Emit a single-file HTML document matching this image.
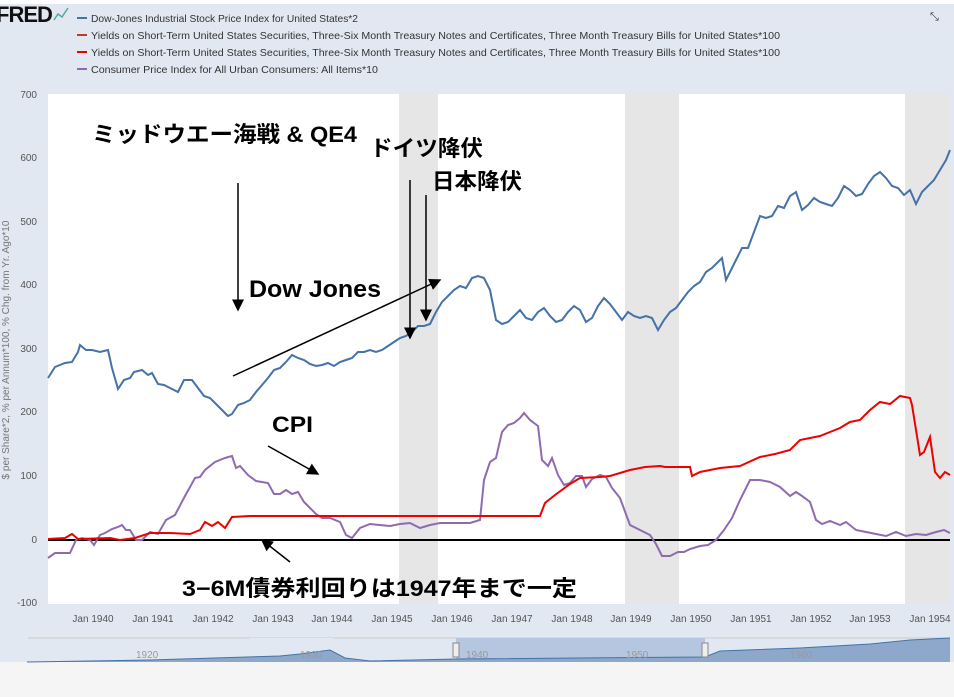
<!DOCTYPE html>
<html><head><meta charset="utf-8"><style>
body{margin:0;width:954px;height:692px;background:#f5f5f5;font-family:"Liberation Sans","Noto Sans CJK JP",sans-serif;overflow:hidden}
</style></head><body>
<svg width="954" height="692" xmlns="http://www.w3.org/2000/svg" font-family="Liberation Sans, Noto Sans CJK JP, sans-serif">
<rect x="0" y="0" width="954" height="662" fill="#e1e8f1"/>
<rect x="0" y="0" width="954" height="4" fill="#fff"/>
<text x="-4" y="22" font-size="22" font-weight="bold" fill="#111" letter-spacing="-1">FRED</text>
<polyline points="54,20 58,14 62,17 68,8" fill="none" stroke="#5a9" stroke-width="1.5"/>
<g font-size="10.5" fill="#333">
<line x1="77" y1="18" x2="87" y2="18" stroke="#4572a7" stroke-width="2"/><text x="91" y="22" textLength="267" lengthAdjust="spacingAndGlyphs">Dow-Jones Industrial Stock Price Index for United States*2</text>
<line x1="77" y1="35" x2="87" y2="35" stroke="#c0392b" stroke-width="2"/><text x="91" y="39" textLength="689" lengthAdjust="spacingAndGlyphs">Yields on Short-Term United States Securities, Three-Six Month Treasury Notes and Certificates, Three Month Treasury Bills for United States*100</text>
<line x1="77" y1="52" x2="87" y2="52" stroke="#e00" stroke-width="2"/><text x="91" y="56" textLength="689" lengthAdjust="spacingAndGlyphs">Yields on Short-Term United States Securities, Three-Six Month Treasury Notes and Certificates, Three Month Treasury Bills for United States*100</text>
<line x1="77" y1="69" x2="87" y2="69" stroke="#8e6bb0" stroke-width="2"/><text x="91" y="73" textLength="287" lengthAdjust="spacingAndGlyphs">Consumer Price Index for All Urban Consumers: All Items*10</text>
</g>
<text x="930" y="20" font-size="11" fill="#333">⤡</text>
<rect x="48" y="94" width="902" height="510" fill="#fff"/>
<rect x="399" y="94" width="39" height="510" fill="#e6e6e6"/>
<rect x="625" y="94" width="54" height="510" fill="#e6e6e6"/>
<rect x="905" y="94" width="45" height="510" fill="#e6e6e6"/>
<g font-size="10" fill="#555" text-anchor="end">
<text x="37" y="98">700</text><text x="37" y="161">600</text><text x="37" y="225">500</text><text x="37" y="288">400</text><text x="37" y="352">300</text><text x="37" y="415">200</text><text x="37" y="479">100</text><text x="37" y="543">0</text><text x="37" y="606">-100</text>
</g>
<text transform="translate(9,350) rotate(-90)" font-size="10" fill="#777" text-anchor="middle">$ per Share*2, % per Annum*100, % Chg. from Yr. Ago*10</text>
<g font-size="10" fill="#555" text-anchor="middle">
<text x="93" y="622">Jan 1940</text><text x="153" y="622">Jan 1941</text><text x="213" y="622">Jan 1942</text><text x="273" y="622">Jan 1943</text><text x="332" y="622">Jan 1944</text><text x="392" y="622">Jan 1945</text><text x="452" y="622">Jan 1946</text><text x="512" y="622">Jan 1947</text><text x="572" y="622">Jan 1948</text><text x="631" y="622">Jan 1949</text><text x="691" y="622">Jan 1950</text><text x="751" y="622">Jan 1951</text><text x="811" y="622">Jan 1952</text><text x="870" y="622">Jan 1953</text><text x="930" y="622">Jan 1954</text>
</g>
<line x1="48" y1="540" x2="950" y2="540" stroke="#000" stroke-width="2"/>
<polyline fill="none" stroke="#8e6bb0" stroke-width="2" points="48,558 55,553 70,553 76,540 82,538 90,540 94,545 100,535 105,533 112,529 118,527 122,525 126,530 130,530 136,540 142,540 150,532 158,534 166,520 175,515 185,496 195,478 200,477 205,470 215,462 225,458 232,456 236,468 240,466 248,475 256,481 268,483 274,494 280,494 286,490 292,494 298,492 304,502 310,508 316,514 322,518 330,518 340,522 346,535 352,538 360,528 370,524 390,526 400,524 410,523 420,528 430,525 440,523 470,523 480,520 484,480 490,462 496,458 502,432 508,425 514,423 520,418 524,413 530,420 538,426 542,460 548,466 552,458 558,475 564,485 570,483 576,476 582,476 586,487 592,479 600,475 606,477 612,488 620,498 630,525 640,530 650,535 656,544 662,556 670,556 678,552 684,552 690,549 700,546 708,545 716,540 724,530 732,518 740,500 750,480 760,480 770,482 780,487 790,496 796,492 802,496 810,502 816,520 822,524 830,521 840,525 846,522 856,530 866,532 876,534 886,536 896,532 906,536 916,534 926,535 936,532 944,530 950,533"/>
<polyline fill="none" stroke="#e00" stroke-width="2" points="48,539 65,538 72,534 78,539 110,538 120,540 135,538 150,533 170,533 190,534 200,530 205,522 212,526 218,522 225,528 232,517 250,516 300,516 540,516 545,503 555,495 570,484 580,478 600,477 610,476 630,470 645,467 660,466 665,467 690,467 692,476 700,472 710,470 720,468 740,466 760,457 775,454 790,450 800,440 820,436 830,432 840,428 850,422 860,420 870,410 880,402 890,404 900,396 910,398 912,405 920,455 924,452 930,437 935,472 940,478 945,472 950,475"/>
<polyline fill="none" stroke="#4572a7" stroke-width="2" points="48,378 55,367 65,363 72,362 78,352 80,345 86,350 92,350 100,352 108,350 112,368 118,389 124,380 130,378 134,372 142,370 148,375 152,373 158,384 164,385 170,388 178,392 184,380 192,380 198,388 204,396 210,398 216,404 222,410 228,416 232,414 238,405 244,403 250,400 256,392 262,385 268,378 274,370 280,368 286,362 292,355 298,358 304,360 310,364 316,366 322,365 328,363 334,366 340,362 346,360 352,358 358,352 364,352 370,350 376,352 382,350 388,346 394,342 400,338 406,336 412,332 418,326 424,326 430,324 436,312 442,302 448,296 454,290 460,286 466,288 472,278 478,276 484,278 490,290 496,320 502,324 508,322 514,316 520,310 526,318 532,320 538,312 544,308 550,316 556,322 562,320 568,312 574,306 580,310 586,322 592,318 598,306 604,298 610,304 616,312 622,320 628,312 634,316 640,318 646,316 652,318 658,330 664,320 670,312 676,308 682,300 688,292 694,286 700,282 706,272 712,268 718,262 722,258 726,280 730,272 736,260 742,248 748,248 754,232 760,216 766,218 772,216 778,206 784,208 790,196 796,192 802,210 808,205 814,198 820,202 826,204 832,206 838,198 844,186 850,190 856,196 862,194 868,184 874,176 880,172 886,178 892,186 898,188 904,195 910,190 916,204 922,192 928,186 934,180 940,170 946,160 950,150"/>
<g font-weight="bold" fill="#000">
<text x="92" y="142" font-size="22" textLength="265" lengthAdjust="spacingAndGlyphs">ミッドウエー海戦 &amp; QE4</text>
<text x="370" y="156" font-size="22" textLength="113" lengthAdjust="spacingAndGlyphs">ドイツ降伏</text>
<text x="432" y="189" font-size="22" textLength="90" lengthAdjust="spacingAndGlyphs">日本降伏</text>
<text x="249" y="297" font-size="24" textLength="132" lengthAdjust="spacingAndGlyphs">Dow Jones</text>
<text x="272" y="432" font-size="22" textLength="41" lengthAdjust="spacingAndGlyphs">CPI</text>
<text x="182" y="596" font-size="22" textLength="395" lengthAdjust="spacingAndGlyphs">3−6M債券利回りは1947年まで一定</text>
</g>
<defs><marker id="a" markerWidth="8" markerHeight="8" refX="7" refY="4" orient="auto"><path d="M0,0 L8,4 L0,8 z" fill="#000"/></marker></defs>
<g stroke="#000" stroke-width="1.5" marker-end="url(#a)">
<line x1="238" y1="183" x2="238" y2="310"/>
<line x1="410" y1="180" x2="410" y2="338"/>
<line x1="426" y1="195" x2="426" y2="320"/>
<line x1="233" y1="376" x2="440" y2="280"/>
<line x1="268" y1="446" x2="318" y2="474"/>
<line x1="290" y1="562" x2="262" y2="540"/>
</g>
<rect x="48" y="633" width="902" height="29" fill="#e1e8f1"/>
<line x1="28" y1="638" x2="950" y2="638" stroke="#ccc"/>
<rect x="250" y="638" width="83" height="24" fill="#e1e8f1"/>
<rect x="456" y="638" width="249" height="24" fill="#b5c6e0"/>
<path d="M27,662 L150,660 L280,656 L300,654 L330,650 L345,658 L370,661 L456,659 L705,657 L720,651 L800,648 L870,644 L910,640 L950,638 L950,662 Z" fill="#8ea8cc"/>
<polyline fill="none" stroke="#4572a7" points="27,662 150,660 280,656 300,654 330,650 345,658 370,661 456,659 705,657 720,651 800,648 870,644 910,640 950,638"/>
<g font-size="10" fill="#999"><text x="136" y="658">1920</text><text x="300" y="658">1930</text><text x="466" y="658">1940</text><text x="626" y="658">1950</text><text x="790" y="658">1960</text></g>
<rect x="453" y="643" width="6" height="14" fill="#eee" stroke="#888"/>
<rect x="702" y="643" width="6" height="14" fill="#eee" stroke="#888"/>
</svg>
</body></html>
